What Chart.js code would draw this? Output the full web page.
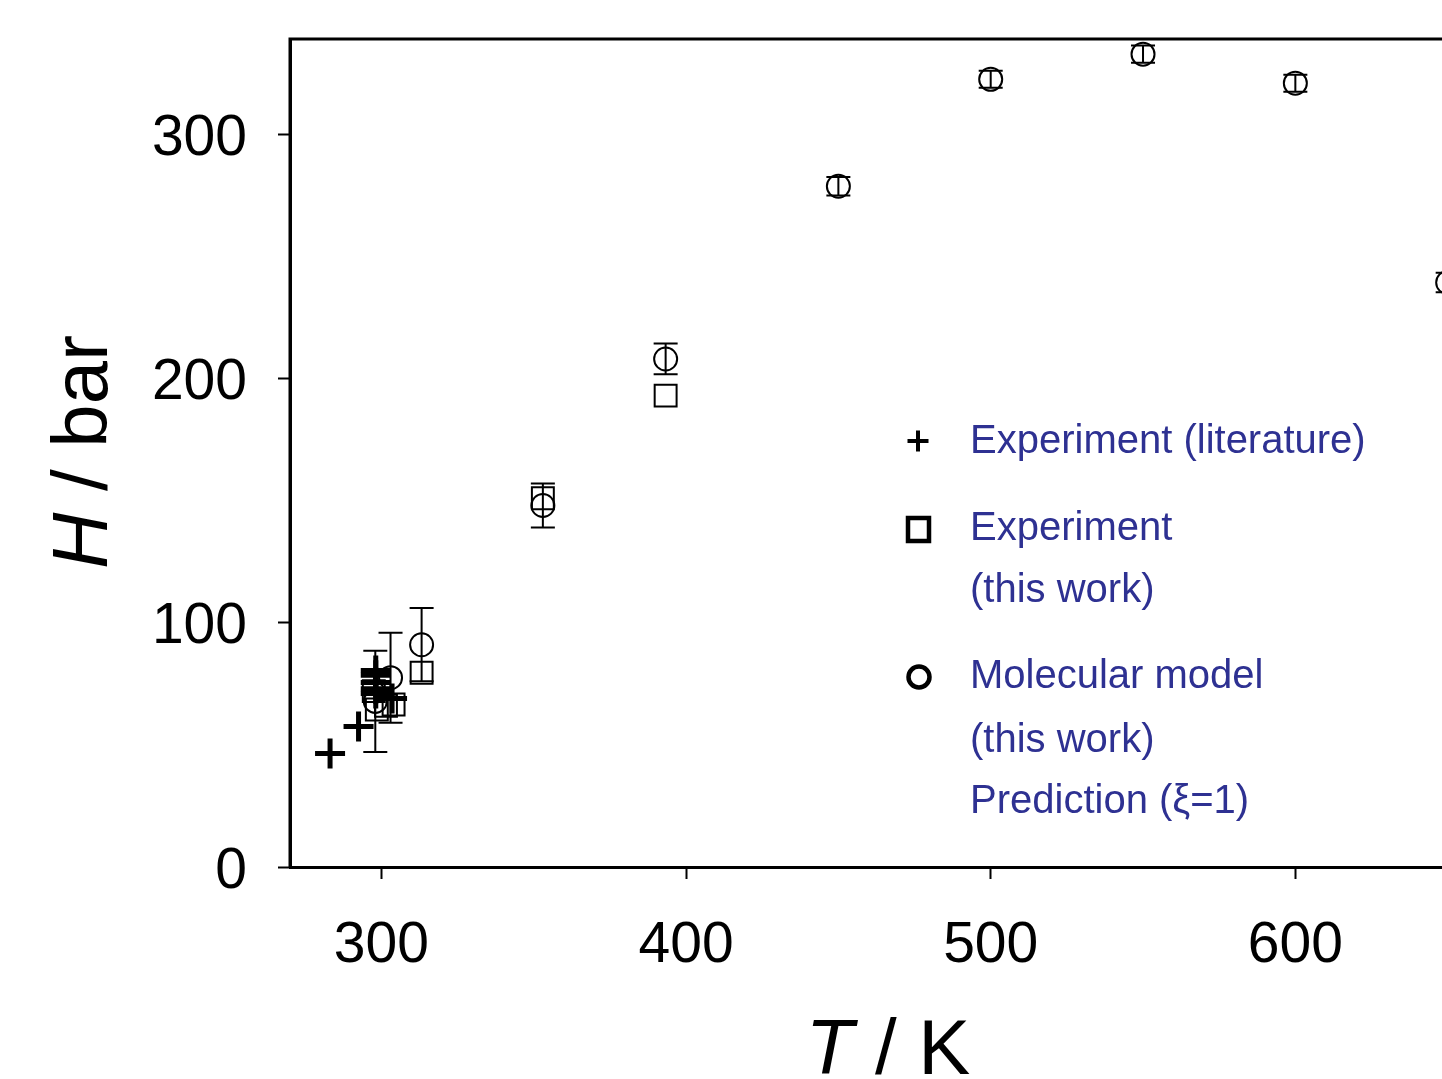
<!DOCTYPE html>
<html><head><meta charset="utf-8">
<script src="https://cdn.jsdelivr.net/npm/chart.js@4/dist/chart.umd.min.js"></script>
<style>
html,body{margin:0;padding:0;overflow:hidden;background:#fff;width:1442px;height:1079px}
#wrap{position:absolute;left:0;top:0;width:1620px;height:1079px}
</style>
</head><body><div id="wrap"><canvas id="c"></canvas></div>
<script>
// Experiment (literature) — plus markers
const litT = [283.15, 292.5, 298.15, 298.15, 298.15, 298.15, 298.15, 303.5];
const litH = [46.5, 57.5, 80.5, 78.5, 75.5, 73, 71, 69];
// Experiment (this work) — square markers
const expT = [297.5, 298.5, 301.5, 304, 313.2, 353.0, 393.3];
const expH = [72, 64.5, 66, 66.5, 79.5, 151, 193];
// Molecular model (this work) — circle markers with error bars
const modelT = [298.0, 303.0, 313.2, 353.0, 393.3, 450, 500, 550, 600, 650];
const modelH = [67.8, 77.5, 91, 148, 208, 278.7, 322.5, 332.8, 320.9, 239.3];
const modelErr = [20.7, 18.4, 15, 9, 6.3, 3.8, 3.5, 3.5, 3.5, 4];
// Axis ticks
const xTicks = [300, 400, 500, 600, 700];
const yTicks = [0, 100, 200, 300];
// Legend text
const legendItems = [
  {style: 'cross', lines: ['Experiment (literature)']},
  {style: 'rect', lines: ['Experiment', '(this work)']},
  {style: 'circle', lines: ['Molecular model', '(this work)', 'Prediction (\u03BE=1)']}
];

const FONT = '"Liberation Sans", Arial, Helvetica, sans-serif';
const toXY = (xs, ys) => xs.map((x, i) => ({x: x, y: ys[i]}));

const errorBars = {
  id: 'errorBars',
  afterDatasetsDraw(chart) {
    const ctx = chart.ctx, xs = chart.scales.x, ys = chart.scales.y;
    ctx.save();
    ctx.strokeStyle = '#000';
    ctx.lineWidth = 2;
    modelT.forEach((t, i) => {
      const px = xs.getPixelForValue(t);
      const top = ys.getPixelForValue(modelH[i] + modelErr[i]);
      const bot = ys.getPixelForValue(modelH[i] - modelErr[i]);
      const cw = 12;
      ctx.beginPath();
      ctx.moveTo(px, top); ctx.lineTo(px, bot);
      ctx.moveTo(px - cw, top); ctx.lineTo(px + cw, top);
      ctx.moveTo(px - cw, bot); ctx.lineTo(px + cw, bot);
      ctx.stroke();
    });
    ctx.restore();
  }
};

const frame = {
  id: 'frame',
  afterDraw(chart) {
    const ctx = chart.ctx, a = chart.chartArea;
    ctx.save();
    ctx.strokeStyle = '#000';
    ctx.lineWidth = 3;
    ctx.beginPath();
    ctx.moveTo(a.left, a.bottom); ctx.lineTo(a.left, a.top); ctx.lineTo(a.right, a.top); ctx.lineTo(a.right, a.bottom);
    ctx.stroke();
    ctx.restore();
  }
};

function drawMixed(ctx, parts, x, y) {
  let total = 0;
  parts.forEach(p => { ctx.font = p.font; p.w = ctx.measureText(p.text).width; total += p.w; });
  let cx = x - total / 2;
  parts.forEach(p => { ctx.font = p.font; ctx.fillText(p.text, cx, y); cx += p.w; });
}

const titlesAndLegend = {
  id: 'titlesAndLegend',
  afterDraw(chart) {
    const ctx = chart.ctx;
    ctx.save();
    ctx.fillStyle = '#000';
    ctx.textAlign = 'left';
    ctx.textBaseline = 'alphabetic';
    drawMixed(ctx, [
      {text: 'T', font: 'italic 78px ' + FONT},
      {text: ' / K', font: '78px ' + FONT}
    ], 888, 1074);
    ctx.save();
    ctx.translate(107, 452);
    ctx.rotate(-Math.PI / 2);
    drawMixed(ctx, [
      {text: 'H', font: 'italic 78px ' + FONT},
      {text: ' / bar', font: '78px ' + FONT}
    ], 0, 0);
    ctx.restore();

    const mx = 918, tx = 970;
    const baselines = [[453], [540, 602], [688, 752, 813]];
    ctx.font = '40px ' + FONT;
    legendItems.forEach((item, k) => {
      const b0 = baselines[k][0];
      const my = b0 - 12;
      ctx.strokeStyle = '#000';
      ctx.lineWidth = 4.5;
      ctx.beginPath();
      if (item.style === 'cross') {
        ctx.lineWidth = 4;
        ctx.moveTo(mx - 10.5, my); ctx.lineTo(mx + 10.5, my);
        ctx.moveTo(mx, my - 10.5); ctx.lineTo(mx, my + 10.5);
      } else if (item.style === 'rect') {
        ctx.rect(mx - 10, my - 10, 21, 23);
      } else {
        ctx.arc(mx + 1, my + 1, 10.5, 0, Math.PI * 2);
      }
      ctx.stroke();
      ctx.fillStyle = '#2e3192';
      item.lines.forEach((ln, j) => ctx.fillText(ln, tx, baselines[k][j]));
    });
    ctx.restore();
  }
};

const tickFont = {family: FONT, size: 57};
const noPad = s => { s.paddingTop = 0; s.paddingBottom = 0; s.paddingLeft = 0; s.paddingRight = 0; };

new Chart(document.getElementById('c'), {
  type: 'scatter',
  data: {
    datasets: [
      {label: 'Experiment (literature)', data: toXY(litT, litH), pointStyle: 'cross',
       pointRadius: 15, pointBorderWidth: 5, borderColor: '#000', backgroundColor: '#000'},
      {label: 'Experiment (this work)', data: toXY(expT, expH), pointStyle: 'rect',
       pointRadius: 15.5, pointBorderWidth: 2, borderColor: '#000', backgroundColor: 'rgba(0,0,0,0)'},
      {label: 'Molecular model (this work)', data: toXY(modelT, modelH), pointStyle: 'circle',
       pointRadius: 11.5, pointBorderWidth: 2, borderColor: '#000', backgroundColor: 'rgba(0,0,0,0)'}
    ]
  },
  options: {
    responsive: true,
    maintainAspectRatio: false,
    animation: false,
    layout: {padding: {top: 39, right: 20, left: 0, bottom: 0}},
    plugins: {legend: {display: false}, tooltip: {enabled: false}},
    scales: {
      x: {
        type: 'linear', position: 'bottom', min: 270, max: 700,
        afterFit(s) { s.height = 212; noPad(s); },
        afterBuildTicks(s) { s.ticks = xTicks.map(v => ({value: v})); },
        ticks: {font: tickFont, color: '#000', padding: 33, maxRotation: 0, autoSkip: false},
        grid: {drawOnChartArea: false, drawTicks: true, tickLength: 12, tickWidth: 2, tickColor: '#000'},
        border: {display: true, width: 3, color: '#000'}
      },
      y: {
        type: 'linear', position: 'left', min: 0, max: 339,
        afterFit(s) { s.width = 290; noPad(s); },
        afterBuildTicks(s) { s.ticks = yTicks.map(v => ({value: v})); },
        ticks: {font: tickFont, color: '#000', padding: 31, labelOffset: 5},
        grid: {drawOnChartArea: false, drawTicks: true, tickLength: 12, tickWidth: 2, tickColor: '#000'},
        border: {display: true, width: 3, color: '#000'}
      }
    }
  },
  plugins: [errorBars, frame, titlesAndLegend]
});
</script>
</body></html>
